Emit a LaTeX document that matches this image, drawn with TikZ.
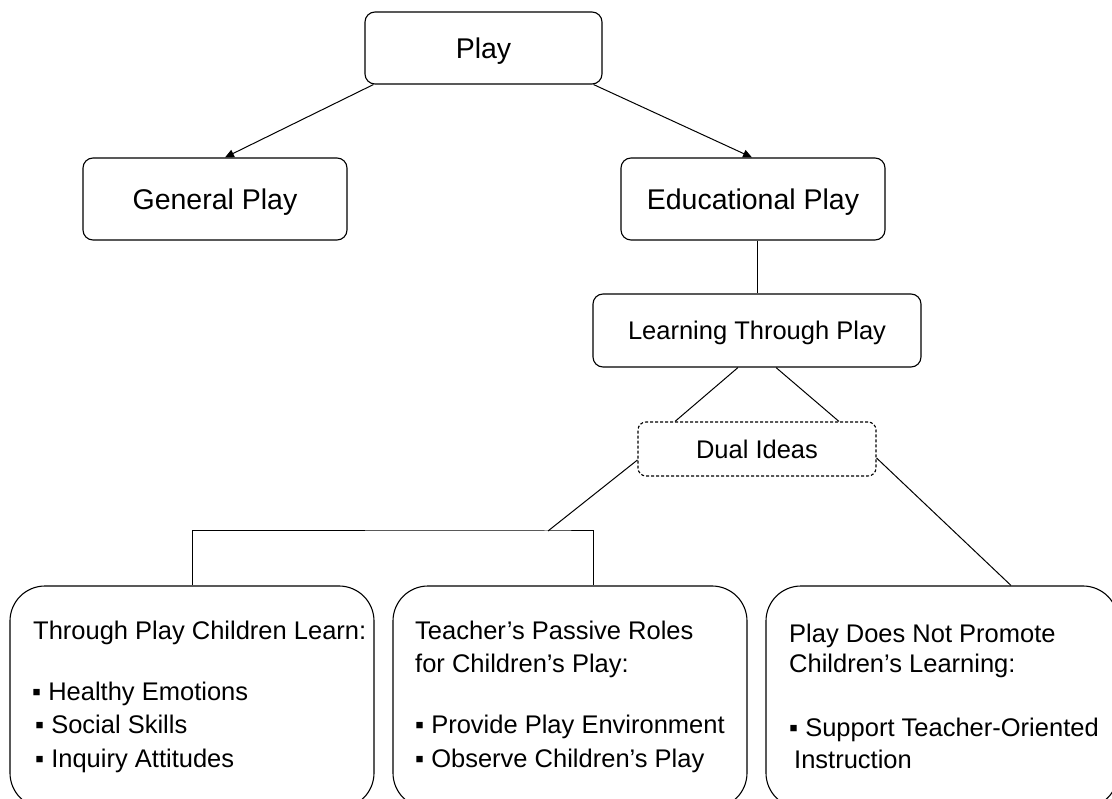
\documentclass[tikz,border=0pt]{standalone}
\usepackage{fontspec}
\setmainfont{Liberation Sans}
\usetikzlibrary{arrows.meta,calc}
\begin{document}
\begin{tikzpicture}[x=1pt,y=-1pt,
  box/.style={draw,line width=1.1pt,rounded corners=10pt,inner sep=0pt},
  big/.style={font=\fontsize{28.5}{34}\selectfont,text height=20.4pt,text depth=0pt},
  small/.style={font=\fontsize{25.5}{30}\selectfont},
  smallc/.style={small,text height=18.3pt,text depth=0pt},
  conn/.style={line width=1pt},
  arr/.style={conn,-{Triangle[length=9pt,width=8pt]}},
  txt/.style={anchor=base west,inner sep=0pt,small}]
\useasboundingbox (0,0) rectangle (1112,799);
% upper boxes
\node[box,big,minimum width=237,minimum height=72] (play) at (483.5,48) {Play};
\node[box,big,minimum width=264,minimum height=82] (gen) at (215,199) {General Play};
\node[box,big,minimum width=264,minimum height=82] (edu) at (753,199) {Educational Play};
\node[box,smallc,minimum width=328,minimum height=73] (ltp) at (757,330.5) {Learning Through Play};
\node[box,smallc,dashed,dash pattern=on 3pt off 2pt,rounded corners=8pt,minimum width=238,minimum height=54] (dual) at (757,449) {Dual Ideas};
% lower boxes
\node[box,rounded corners=35pt,minimum width=364,minimum height=222] (lb) at (192,697) {};
\node[box,rounded corners=35pt,minimum width=354,minimum height=222] (mb) at (570,697) {};
\node[box,rounded corners=35pt,minimum width=352,minimum height=222] (rb) at (942,697) {};
% texts of lower boxes
\node[txt] (l1) at (33,639) {Through Play Children Learn:};
\node[txt] (l2) at (32,700) {▪ Healthy Emotions};
\node[txt] (l3) at (35,733) {▪ Social Skills};
\node[txt] (l4) at (35,767) {▪ Inquiry Attitudes};
\node[txt] (m1) at (415,639) {Teacher’s Passive Roles};
\node[txt] (m2) at (415,672) {for Children’s Play:};
\node[txt] (m3) at (415,733) {▪ Provide Play Environment};
\node[txt] (m4) at (415,767) {▪ Observe Children’s Play};
\node[txt] (r1) at (789,642) {Play Does Not Promote};
\node[txt] (r2) at (789,672) {Children’s Learning:};
\node[txt] (r3) at (789,736) {▪ Support Teacher-Oriented};
\node[txt] (r4) at (794,768) {Instruction};
% connectors
\draw[arr] ($(play.south west)+(9,0)$) -- ($(gen.north)+(10,0)$);
\draw[arr] ($(play.south east)+(-9,0)$) -- ($(edu.north)+(-1,0)$);
\draw[conn] (ltp.north |- edu.south) -- (ltp.north);
\draw[conn] ($(ltp.south)+(-19,0)$) -- ($(dual.north)+(-82,0)$);
\draw[conn] ($(ltp.south)+(19,0)$) -- ($(dual.north)+(82,0)$);
\coordinate (junc) at (548,531);
\draw[conn] ($(dual.west)+(0,11)$) -- (junc);
\draw[conn] (lb.north) |- (junc) -| ($(mb.north)+(23,0)$);
\draw[conn] ($(dual.east)+(0,9)$) -- ($(rb.north)+(69,0)$);
\end{tikzpicture}
\end{document}
